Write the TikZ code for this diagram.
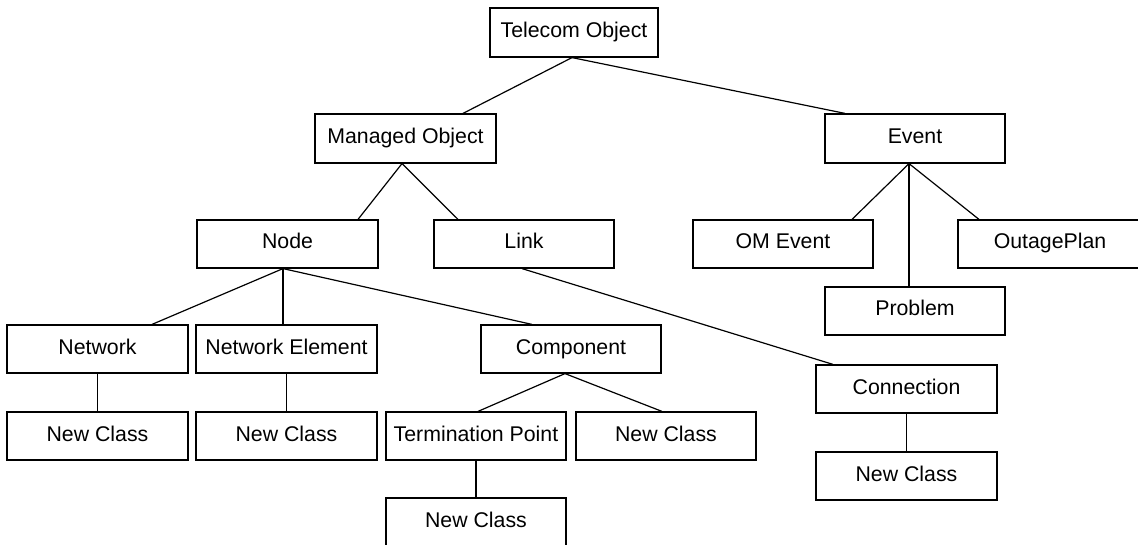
\documentclass[tikz,border=0pt]{standalone}
\usepackage{fontspec}
\setmainfont{Liberation Sans}
\begin{document}
\begin{tikzpicture}[x=1pt,y=-1pt,
  cls/.style={draw=black, line width=1.2pt, rectangle, inner sep=0pt,
    minimum width=180pt, minimum height=48pt,
    text height=15pt, text depth=5pt,
    font=\fontsize{21.3}{25}\selectfont},
  tie/.style={draw=black, line width=1.2pt}]
\useasboundingbox (0,0) rectangle (1138,545);
\begin{scope}
\clip (0,0) rectangle (1138,545);
% class boxes
\node[cls, minimum width=168pt, minimum height=49pt] (to) at (574,32.5) {Telecom Object};
\node[cls, minimum width=181pt, minimum height=49pt] (mo) at (405.5,138.5) {Managed Object};
\node[cls, minimum height=49pt] (ev) at (915,138.5) {Event};
\node[cls, minimum width=181pt] (nd) at (287.5,244) {Node};
\node[cls] (lk) at (524,244) {Link};
\node[cls] (om) at (783,244) {OM Event};
\node[cls, minimum width=184pt] (op) at (1050,244) {OutagePlan};
\node[cls] (pb) at (915,311) {Problem};
\node[cls, minimum width=181pt] (nw) at (97.5,349) {Network};
\node[cls, minimum width=181pt] (ne) at (286.5,349) {Network Element};
\node[cls] (cp) at (571,349) {Component};
\node[cls, minimum width=181pt] (cn) at (906.5,389) {Connection};
\node[cls, minimum width=181pt] (nc1) at (97.5,436) {New Class};
\node[cls, minimum width=181pt] (nc2) at (286.5,436) {New Class};
\node[cls] (tp) at (476,436) {Termination Point};
\node[cls] (nc3) at (666,436) {New Class};
\node[cls] (nc4) at (476,522) {New Class};
\node[cls, minimum width=181pt] (nc5) at (906.5,476) {New Class};

% fork points under each parent
\coordinate (toF) at ([xshift=-2pt]to.south);
\coordinate (moF) at ([xshift=-3.5pt]mo.south);
\coordinate (ndF) at ([xshift=-4.5pt]nd.south);
\coordinate (evF) at ([xshift=-6pt]ev.south);
\coordinate (cpF) at ([xshift=-6pt]cp.south);
\coordinate (lkF) at ([xshift=-2pt]lk.south);

% inheritance links
\draw[tie] (toF) -- ([xshift=57.5pt]mo.north);
\draw[tie] (toF) -- ([xshift=-70pt]ev.north);
\draw[tie] (moF) -- ([xshift=70.5pt]nd.north);
\draw[tie] (moF) -- ([xshift=-66pt]lk.north);
\draw[tie] (ndF) -- ([xshift=54.5pt]nw.north);
\draw[tie] (ndF) -- (ndF |- ne.north);
\draw[tie] (ndF) -- ([xshift=-39pt]cp.north);
\draw[tie] (lkF) -- ([xshift=-73.5pt]cn.north);
\draw[tie] (evF) -- ([xshift=69pt]om.north);
\draw[tie] (evF) -- (evF |- pb.north);
\draw[tie] (evF) -- ([xshift=-71pt]op.north);
\draw[tie] (cpF) -- ([xshift=2pt]tp.north);
\draw[tie] (cpF) -- ([xshift=-4pt]nc3.north);
\draw[tie] (nw.south) -- (nc1.north);
\draw[tie] (ne.south) -- (nc2.north);
\draw[tie] (tp.south) -- (nc4.north);
\draw[tie] (cn.south) -- (nc5.north);
\end{scope}
\end{tikzpicture}
\end{document}
